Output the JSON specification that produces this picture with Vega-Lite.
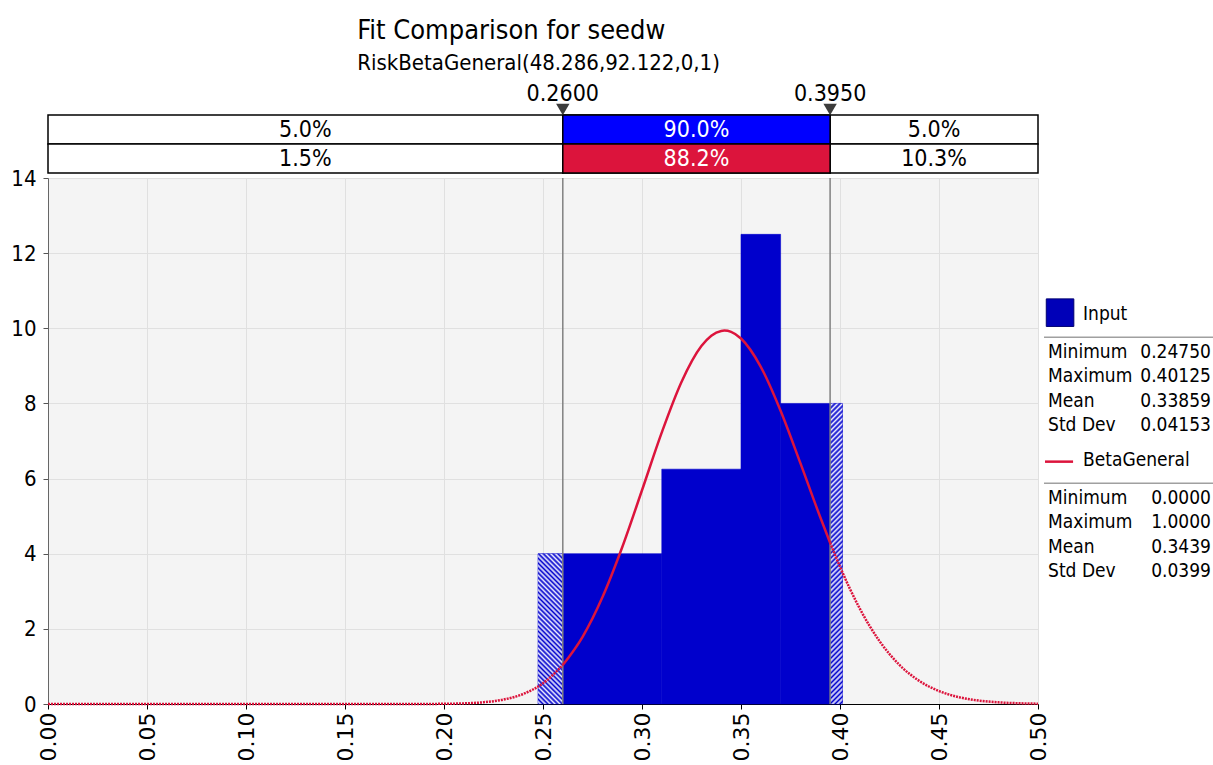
{
  "$schema": "https://vega.github.io/schema/vega-lite/v6.json",
  "background": "white",
  "padding": {"left": 10, "top": 16, "right": 0, "bottom": 0},
  "config": {"font": "DejaVu Sans Condensed", "view": {"stroke": null}},
  "datasets": {
    "bins": [
      {"lo": 0.2475, "hi": 0.31, "density": 4},
      {"lo": 0.31, "hi": 0.35, "density": 6.25},
      {"lo": 0.35, "hi": 0.37, "density": 12.5},
      {"lo": 0.37, "hi": 0.40125, "density": 8}
    ],
    "hatch": [
      {"side": "left", "lo": 0.2475, "hi": 0.26, "density": 4},
      {"side": "right", "lo": 0.395, "hi": 0.40125, "density": 8}
    ],
    "markers": [{"v": 0.26}, {"v": 0.395}],
    "band": [
      {"row": "Input", "lo": 0, "hi": 0.26, "pct": "5.0%"},
      {"row": "Input", "lo": 0.26, "hi": 0.395, "pct": "90.0%"},
      {"row": "Input", "lo": 0.395, "hi": 0.5, "pct": "5.0%"},
      {"row": "BetaGeneral", "lo": 0, "hi": 0.26, "pct": "1.5%"},
      {"row": "BetaGeneral", "lo": 0.26, "hi": 0.395, "pct": "88.2%"},
      {"row": "BetaGeneral", "lo": 0.395, "hi": 0.5, "pct": "10.3%"}
    ],
    "curve": [
      {"x": 0.0, "density": 0}, {"x": 0.05, "density": 0}, {"x": 0.1, "density": 0},
      {"x": 0.15, "density": 0.000002}, {"x": 0.17, "density": 0.00007}, {"x": 0.18, "density": 0.00034},
      {"x": 0.19, "density": 0.0014}, {"x": 0.2, "density": 0.0052}, {"x": 0.21, "density": 0.0165},
      {"x": 0.22, "density": 0.0466}, {"x": 0.23, "density": 0.118}, {"x": 0.24, "density": 0.267},
      {"x": 0.25, "density": 0.551}, {"x": 0.26, "density": 1.036}, {"x": 0.27, "density": 1.787},
      {"x": 0.28, "density": 2.839}, {"x": 0.29, "density": 4.171}, {"x": 0.3, "density": 5.689},
      {"x": 0.31, "density": 7.229}, {"x": 0.32, "density": 8.577}, {"x": 0.33, "density": 9.527},
      {"x": 0.335, "density": 9.803}, {"x": 0.34, "density": 9.93}, {"x": 0.3416, "density": 9.938},
      {"x": 0.345, "density": 9.904}, {"x": 0.35, "density": 9.728}, {"x": 0.36, "density": 8.974},
      {"x": 0.37, "density": 7.806}, {"x": 0.38, "density": 6.411}, {"x": 0.39, "density": 4.976},
      {"x": 0.395, "density": 4.293}, {"x": 0.4, "density": 3.653}, {"x": 0.41, "density": 2.539},
      {"x": 0.42, "density": 1.671}, {"x": 0.43, "density": 1.042}, {"x": 0.44, "density": 0.616},
      {"x": 0.45, "density": 0.345}, {"x": 0.46, "density": 0.183}, {"x": 0.47, "density": 0.092},
      {"x": 0.48, "density": 0.044}, {"x": 0.49, "density": 0.02}, {"x": 0.5, "density": 0.0085}
    ],
    "legend": [
      {"line": 0, "kind": "header", "label": "Input", "value": ""},
      {"line": 1, "kind": "stat", "label": "Minimum", "value": "0.24750"},
      {"line": 2, "kind": "stat", "label": "Maximum", "value": "0.40125"},
      {"line": 3, "kind": "stat", "label": "Mean", "value": "0.33859"},
      {"line": 4, "kind": "stat", "label": "Std Dev", "value": "0.04153"},
      {"line": 6, "kind": "header", "label": "BetaGeneral", "value": ""},
      {"line": 7, "kind": "stat", "label": "Minimum", "value": "0.0000"},
      {"line": 8, "kind": "stat", "label": "Maximum", "value": "1.0000"},
      {"line": 9, "kind": "stat", "label": "Mean", "value": "0.3439"},
      {"line": 10, "kind": "stat", "label": "Std Dev", "value": "0.0399"}
    ]
  },
  "vconcat": [
    {
      "width": 990,
      "height": 58,
      "title": {
        "text": "Fit Comparison for seedw",
        "subtitle": "RiskBetaGeneral(48.286,92.122,0,1)",
        "anchor": "start",
        "dx": 310,
        "fontSize": 27,
        "fontWeight": "normal",
        "font": "DejaVu Sans Condensed",
        "color": "black",
        "subtitleFontSize": 22,
        "subtitleFont": "DejaVu Sans Condensed",
        "subtitleColor": "black",
        "subtitlePadding": 8,
        "offset": 8
      },
      "data": {"name": "band"},
      "layer": [
        {
          "mark": {"type": "rect", "fill": "white", "stroke": "black", "strokeWidth": 1.5},
          "encoding": {
            "x": {"field": "lo", "type": "quantitative", "scale": {"domain": [0, 0.5], "nice": false, "zero": false}, "axis": null},
            "x2": {"field": "hi"},
            "y": {"field": "row", "type": "nominal", "scale": {"domain": ["Input", "BetaGeneral"], "paddingInner": 0, "paddingOuter": 0}, "axis": null}
          }
        },
        {
          "transform": [{"filter": "datum.lo == 0.26"}],
          "mark": {"type": "rect", "stroke": "black", "strokeWidth": 1.5},
          "encoding": {
            "x": {"field": "lo", "type": "quantitative"},
            "x2": {"field": "hi"},
            "y": {"field": "row", "type": "nominal"},
            "fill": {"field": "row", "type": "nominal", "scale": {"domain": ["Input", "BetaGeneral"], "range": ["#0000ff", "#dc143c"]}, "legend": null}
          }
        },
        {
          "transform": [{"calculate": "(datum.lo + datum.hi) / 2", "as": "mid"}],
          "mark": {"type": "text", "fontSize": 23, "baseline": "middle", "align": "center"},
          "encoding": {
            "x": {"field": "mid", "type": "quantitative"},
            "y": {"field": "row", "type": "nominal"},
            "text": {"field": "pct"},
            "color": {"condition": {"test": "datum.lo == 0.26", "value": "white"}, "value": "black"}
          }
        },
        {
          "data": {"name": "markers"},
          "mark": {"type": "point", "shape": "triangle-down", "size": 180, "filled": true, "color": "#3c3c3c", "opacity": 1, "yOffset": -20},
          "encoding": {
            "x": {"field": "v", "type": "quantitative"},
            "y": {"datum": "Input", "type": "nominal"}
          }
        },
        {
          "data": {"name": "markers"},
          "mark": {"type": "text", "fontSize": 23, "baseline": "middle", "align": "center", "yOffset": -36, "color": "black"},
          "encoding": {
            "x": {"field": "v", "type": "quantitative"},
            "y": {"datum": "Input", "type": "nominal"},
            "text": {"field": "v", "type": "quantitative", "format": ".4f"}
          }
        }
      ]
    },
    {
      "hconcat": [
        {
          "width": 990,
          "height": 526,
          "view": {"fill": "#f4f4f4", "stroke": null},
          "layer": [
            {
              "data": {"name": "bins"},
              "mark": {"type": "rect", "color": "#0000cc", "stroke": "#0000cc", "strokeWidth": 0.6},
              "encoding": {
                "x": {
                  "field": "lo", "type": "quantitative",
                  "scale": {"domain": [0, 0.5], "nice": false, "zero": false},
                  "axis": {
                    "values": [0, 0.05, 0.1, 0.15, 0.2, 0.25, 0.3, 0.35, 0.4, 0.45, 0.5],
                    "format": ".2f", "labelAngle": -90, "title": null,
                    "labelFont": "DejaVu Sans", "labelFontSize": 22, "labelColor": "black",
                    "labelPadding": 3, "tickSize": 5, "tickColor": "black", "domainColor": "black",
                    "gridColor": "#e0e0e0", "labelOverlap": false
                  }
                },
                "x2": {"field": "hi"},
                "y": {
                  "field": "density", "type": "quantitative",
                  "scale": {"domain": [0, 14], "nice": false},
                  "axis": {
                    "values": [0, 2, 4, 6, 8, 10, 12, 14], "title": null,
                    "labelFont": "DejaVu Sans Condensed", "labelFontSize": 22, "labelColor": "black",
                    "labelPadding": 7, "tickSize": 5, "tickColor": "#555555", "domainColor": "#666666",
                    "gridColor": "#e0e0e0"
                  }
                },
                "y2": {"datum": 0}
              }
            },
            {
              "data": {"name": "hatch"},
              "transform": [{"filter": "datum.side == 'left'"}],
              "mark": {
                "type": "rect",
                "fill": {
                  "gradient": "linear", "x1": 0, "y1": 1, "x2": 0.18672, "y2": -0.1339,
                  "stops": [
                    {"offset": 0, "color": "#00c"}, {"offset": 0.0139, "color": "#eef"}, {"offset": 0.0278, "color": "#00c"}, {"offset": 0.0417, "color": "#eef"},
                    {"offset": 0.0556, "color": "#00c"}, {"offset": 0.0694, "color": "#eef"}, {"offset": 0.0833, "color": "#00c"}, {"offset": 0.0972, "color": "#eef"},
                    {"offset": 0.1111, "color": "#00c"}, {"offset": 0.125, "color": "#eef"}, {"offset": 0.1389, "color": "#00c"}, {"offset": 0.1528, "color": "#eef"},
                    {"offset": 0.1667, "color": "#00c"}, {"offset": 0.1806, "color": "#eef"}, {"offset": 0.1944, "color": "#00c"}, {"offset": 0.2083, "color": "#eef"},
                    {"offset": 0.2222, "color": "#00c"}, {"offset": 0.2361, "color": "#eef"}, {"offset": 0.25, "color": "#00c"}, {"offset": 0.2639, "color": "#eef"},
                    {"offset": 0.2778, "color": "#00c"}, {"offset": 0.2917, "color": "#eef"}, {"offset": 0.3056, "color": "#00c"}, {"offset": 0.3194, "color": "#eef"},
                    {"offset": 0.3333, "color": "#00c"}, {"offset": 0.3472, "color": "#eef"}, {"offset": 0.3611, "color": "#00c"}, {"offset": 0.375, "color": "#eef"},
                    {"offset": 0.3889, "color": "#00c"}, {"offset": 0.4028, "color": "#eef"}, {"offset": 0.4167, "color": "#00c"}, {"offset": 0.4306, "color": "#eef"},
                    {"offset": 0.4444, "color": "#00c"}, {"offset": 0.4583, "color": "#eef"}, {"offset": 0.4722, "color": "#00c"}, {"offset": 0.4861, "color": "#eef"},
                    {"offset": 0.5, "color": "#00c"}, {"offset": 0.5139, "color": "#eef"}, {"offset": 0.5278, "color": "#00c"}, {"offset": 0.5417, "color": "#eef"},
                    {"offset": 0.5556, "color": "#00c"}, {"offset": 0.5694, "color": "#eef"}, {"offset": 0.5833, "color": "#00c"}, {"offset": 0.5972, "color": "#eef"},
                    {"offset": 0.6111, "color": "#00c"}, {"offset": 0.625, "color": "#eef"}, {"offset": 0.6389, "color": "#00c"}, {"offset": 0.6528, "color": "#eef"},
                    {"offset": 0.6667, "color": "#00c"}, {"offset": 0.6806, "color": "#eef"}, {"offset": 0.6944, "color": "#00c"}, {"offset": 0.7083, "color": "#eef"},
                    {"offset": 0.7222, "color": "#00c"}, {"offset": 0.7361, "color": "#eef"}, {"offset": 0.75, "color": "#00c"}, {"offset": 0.7639, "color": "#eef"},
                    {"offset": 0.7778, "color": "#00c"}, {"offset": 0.7917, "color": "#eef"}, {"offset": 0.8056, "color": "#00c"}, {"offset": 0.8194, "color": "#eef"},
                    {"offset": 0.8333, "color": "#00c"}, {"offset": 0.8472, "color": "#eef"}, {"offset": 0.8611, "color": "#00c"}, {"offset": 0.875, "color": "#eef"},
                    {"offset": 0.8889, "color": "#00c"}, {"offset": 0.9028, "color": "#eef"}, {"offset": 0.9167, "color": "#00c"}, {"offset": 0.9306, "color": "#eef"},
                    {"offset": 0.9444, "color": "#00c"}, {"offset": 0.9583, "color": "#eef"}, {"offset": 0.9722, "color": "#00c"}, {"offset": 0.9861, "color": "#eef"},
                    {"offset": 1, "color": "#00c"}
                  ]
                }
              },
              "encoding": {
                "x": {"field": "lo", "type": "quantitative"},
                "x2": {"field": "hi"},
                "y": {"field": "density", "type": "quantitative"},
                "y2": {"datum": 0}
              }
            },
            {
              "data": {"name": "hatch"},
              "transform": [{"filter": "datum.side == 'right'"}],
              "mark": {
                "type": "rect",
                "fill": {
                  "gradient": "linear", "x1": 0, "y1": 0, "x2": 0.04279, "y2": 1.03944,
                  "stops": [
                    {"offset": 0, "color": "#00c"}, {"offset": 0.008, "color": "#eef"}, {"offset": 0.016, "color": "#00c"}, {"offset": 0.024, "color": "#eef"},
                    {"offset": 0.032, "color": "#00c"}, {"offset": 0.04, "color": "#eef"}, {"offset": 0.048, "color": "#00c"}, {"offset": 0.056, "color": "#eef"},
                    {"offset": 0.064, "color": "#00c"}, {"offset": 0.072, "color": "#eef"}, {"offset": 0.08, "color": "#00c"}, {"offset": 0.088, "color": "#eef"},
                    {"offset": 0.096, "color": "#00c"}, {"offset": 0.104, "color": "#eef"}, {"offset": 0.112, "color": "#00c"}, {"offset": 0.12, "color": "#eef"},
                    {"offset": 0.128, "color": "#00c"}, {"offset": 0.136, "color": "#eef"}, {"offset": 0.144, "color": "#00c"}, {"offset": 0.152, "color": "#eef"},
                    {"offset": 0.16, "color": "#00c"}, {"offset": 0.168, "color": "#eef"}, {"offset": 0.176, "color": "#00c"}, {"offset": 0.184, "color": "#eef"},
                    {"offset": 0.192, "color": "#00c"}, {"offset": 0.2, "color": "#eef"}, {"offset": 0.208, "color": "#00c"}, {"offset": 0.216, "color": "#eef"},
                    {"offset": 0.224, "color": "#00c"}, {"offset": 0.232, "color": "#eef"}, {"offset": 0.24, "color": "#00c"}, {"offset": 0.248, "color": "#eef"},
                    {"offset": 0.256, "color": "#00c"}, {"offset": 0.264, "color": "#eef"}, {"offset": 0.272, "color": "#00c"}, {"offset": 0.28, "color": "#eef"},
                    {"offset": 0.288, "color": "#00c"}, {"offset": 0.296, "color": "#eef"}, {"offset": 0.304, "color": "#00c"}, {"offset": 0.312, "color": "#eef"},
                    {"offset": 0.32, "color": "#00c"}, {"offset": 0.328, "color": "#eef"}, {"offset": 0.336, "color": "#00c"}, {"offset": 0.344, "color": "#eef"},
                    {"offset": 0.352, "color": "#00c"}, {"offset": 0.36, "color": "#eef"}, {"offset": 0.368, "color": "#00c"}, {"offset": 0.376, "color": "#eef"},
                    {"offset": 0.384, "color": "#00c"}, {"offset": 0.392, "color": "#eef"}, {"offset": 0.4, "color": "#00c"}, {"offset": 0.408, "color": "#eef"},
                    {"offset": 0.416, "color": "#00c"}, {"offset": 0.424, "color": "#eef"}, {"offset": 0.432, "color": "#00c"}, {"offset": 0.44, "color": "#eef"},
                    {"offset": 0.448, "color": "#00c"}, {"offset": 0.456, "color": "#eef"}, {"offset": 0.464, "color": "#00c"}, {"offset": 0.472, "color": "#eef"},
                    {"offset": 0.48, "color": "#00c"}, {"offset": 0.488, "color": "#eef"}, {"offset": 0.496, "color": "#00c"}, {"offset": 0.504, "color": "#eef"},
                    {"offset": 0.512, "color": "#00c"}, {"offset": 0.52, "color": "#eef"}, {"offset": 0.528, "color": "#00c"}, {"offset": 0.536, "color": "#eef"},
                    {"offset": 0.544, "color": "#00c"}, {"offset": 0.552, "color": "#eef"}, {"offset": 0.56, "color": "#00c"}, {"offset": 0.568, "color": "#eef"},
                    {"offset": 0.576, "color": "#00c"}, {"offset": 0.584, "color": "#eef"}, {"offset": 0.592, "color": "#00c"}, {"offset": 0.6, "color": "#eef"},
                    {"offset": 0.608, "color": "#00c"}, {"offset": 0.616, "color": "#eef"}, {"offset": 0.624, "color": "#00c"}, {"offset": 0.632, "color": "#eef"},
                    {"offset": 0.64, "color": "#00c"}, {"offset": 0.648, "color": "#eef"}, {"offset": 0.656, "color": "#00c"}, {"offset": 0.664, "color": "#eef"},
                    {"offset": 0.672, "color": "#00c"}, {"offset": 0.68, "color": "#eef"}, {"offset": 0.688, "color": "#00c"}, {"offset": 0.696, "color": "#eef"},
                    {"offset": 0.704, "color": "#00c"}, {"offset": 0.712, "color": "#eef"}, {"offset": 0.72, "color": "#00c"}, {"offset": 0.728, "color": "#eef"},
                    {"offset": 0.736, "color": "#00c"}, {"offset": 0.744, "color": "#eef"}, {"offset": 0.752, "color": "#00c"}, {"offset": 0.76, "color": "#eef"},
                    {"offset": 0.768, "color": "#00c"}, {"offset": 0.776, "color": "#eef"}, {"offset": 0.784, "color": "#00c"}, {"offset": 0.792, "color": "#eef"},
                    {"offset": 0.8, "color": "#00c"}, {"offset": 0.808, "color": "#eef"}, {"offset": 0.816, "color": "#00c"}, {"offset": 0.824, "color": "#eef"},
                    {"offset": 0.832, "color": "#00c"}, {"offset": 0.84, "color": "#eef"}, {"offset": 0.848, "color": "#00c"}, {"offset": 0.856, "color": "#eef"},
                    {"offset": 0.864, "color": "#00c"}, {"offset": 0.872, "color": "#eef"}, {"offset": 0.88, "color": "#00c"}, {"offset": 0.888, "color": "#eef"},
                    {"offset": 0.896, "color": "#00c"}, {"offset": 0.904, "color": "#eef"}, {"offset": 0.912, "color": "#00c"}, {"offset": 0.92, "color": "#eef"},
                    {"offset": 0.928, "color": "#00c"}, {"offset": 0.936, "color": "#eef"}, {"offset": 0.944, "color": "#00c"}, {"offset": 0.952, "color": "#eef"},
                    {"offset": 0.96, "color": "#00c"}, {"offset": 0.968, "color": "#eef"}, {"offset": 0.976, "color": "#00c"}, {"offset": 0.984, "color": "#eef"},
                    {"offset": 0.992, "color": "#00c"}, {"offset": 1, "color": "#eef"}
                  ]
                }
              },
              "encoding": {
                "x": {"field": "lo", "type": "quantitative"},
                "x2": {"field": "hi"},
                "y": {"field": "density", "type": "quantitative"},
                "y2": {"datum": 0}
              }
            },
            {
              "data": {"name": "markers"},
              "mark": {"type": "rule", "color": "#808080", "strokeWidth": 1.5},
              "encoding": {"x": {"field": "v", "type": "quantitative"}}
            },
            {
              "data": {"name": "curve"},
              "transform": [{"filter": "datum.x >= 0.26 && datum.x <= 0.395"}],
              "mark": {"type": "line", "color": "#dc143c", "strokeWidth": 2.5, "interpolate": "monotone"},
              "encoding": {
                "x": {"field": "x", "type": "quantitative"},
                "y": {"field": "density", "type": "quantitative"}
              }
            },
            {
              "data": {"name": "curve"},
              "transform": [{"filter": "datum.x <= 0.26"}],
              "mark": {"type": "line", "color": "#dc143c", "strokeWidth": 2.5, "strokeDash": [2, 1], "interpolate": "monotone"},
              "encoding": {
                "x": {"field": "x", "type": "quantitative"},
                "y": {"field": "density", "type": "quantitative"}
              }
            },
            {
              "data": {"name": "curve"},
              "transform": [{"filter": "datum.x >= 0.395"}],
              "mark": {"type": "line", "color": "#dc143c", "strokeWidth": 2.5, "strokeDash": [2, 1], "interpolate": "monotone"},
              "encoding": {
                "x": {"field": "x", "type": "quantitative"},
                "y": {"field": "density", "type": "quantitative"}
              }
            }
          ]
        },
        {
          "width": 169,
          "height": 526,
          "data": {"name": "legend"},
          "layer": [
            {
              "transform": [{"filter": "datum.label == 'Input'"}],
              "mark": {"type": "point", "shape": "square", "size": 760, "filled": true, "fill": "#0000b8", "stroke": "#000070", "strokeWidth": 1, "opacity": 1, "yOffset": -15},
              "encoding": {
                "x": {"datum": 0.095, "type": "quantitative", "scale": {"domain": [0, 1]}, "axis": null},
                "y": {"field": "line", "type": "quantitative", "scale": {"domain": [-6.151, 15.467], "reverse": true, "zero": false, "nice": false}, "axis": null}
              }
            },
            {
              "transform": [{"filter": "datum.label == 'BetaGeneral'"}],
              "mark": {"type": "rule", "color": "#dc143c", "strokeWidth": 2.5, "yOffset": -12},
              "encoding": {
                "x": {"datum": 0.006, "type": "quantitative"},
                "x2": {"datum": 0.172},
                "y": {"field": "line", "type": "quantitative"}
              }
            },
            {
              "transform": [{"filter": "datum.kind == 'header'"}],
              "mark": {"type": "rule", "color": "#a0a0a0", "strokeWidth": 1.5, "yOffset": 9.5},
              "encoding": {
                "x": {"datum": 0, "type": "quantitative"},
                "x2": {"datum": 1},
                "y": {"field": "line", "type": "quantitative"}
              }
            },
            {
              "transform": [{"filter": "datum.kind == 'header'"}],
              "mark": {"type": "text", "align": "left", "baseline": "middle", "fontSize": 19, "color": "black", "yOffset": -14},
              "encoding": {
                "x": {"datum": 0.231, "type": "quantitative"},
                "y": {"field": "line", "type": "quantitative"},
                "text": {"field": "label"}
              }
            },
            {
              "transform": [{"filter": "datum.kind == 'stat'"}],
              "mark": {"type": "text", "align": "left", "baseline": "middle", "fontSize": 19, "color": "black"},
              "encoding": {
                "x": {"datum": 0.024, "type": "quantitative"},
                "y": {"field": "line", "type": "quantitative"},
                "text": {"field": "label"}
              }
            },
            {
              "transform": [{"filter": "datum.kind == 'stat'"}],
              "mark": {"type": "text", "align": "right", "baseline": "middle", "fontSize": 19, "color": "black"},
              "encoding": {
                "x": {"datum": 0.988, "type": "quantitative"},
                "y": {"field": "line", "type": "quantitative"},
                "text": {"field": "value"}
              }
            }
          ]
        }
      ],
      "spacing": 6,
      "bounds": "flush"
    }
  ],
  "spacing": 5,
  "bounds": "flush"
}
